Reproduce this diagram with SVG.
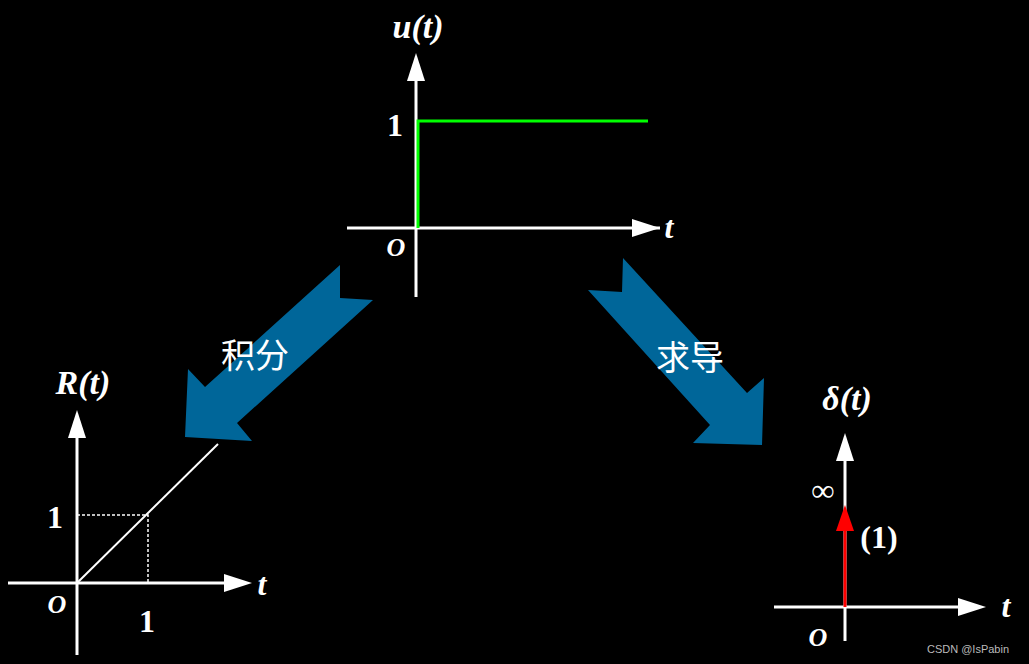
<svg xmlns="http://www.w3.org/2000/svg" width="1029" height="664" viewBox="0 0 1029 664">
<style>
.ax{stroke:#fff;stroke-width:3;fill:none}
.m{font-family:"Liberation Serif",serif;font-weight:bold;font-style:italic;fill:#fff}
.n{font-family:"Liberation Serif",serif;font-weight:bold;fill:#fff}
.cn{font-family:"Noto Sans CJK SC",sans-serif;fill:#fff;font-size:34px}
.big{fill:#006699}
</style>
<defs>
<marker id="ah" markerWidth="10" markerHeight="8" refX="9" refY="4" orient="auto" markerUnits="userSpaceOnUse" viewBox="0 0 10 8">
<path d="M0,0 L10,4 L0,8 Z" fill="#fff"/></marker>
</defs>
<rect width="1029" height="664" fill="#000"/>
<g id="arrows">
<polygon class="big" points="340,265 340,298 373,300 237,423 252,441 185,437 188,369 205,387"/>
<polygon class="big" points="623,258 622,292 588,290 710,425 693,443 762,445 764,378 747,393"/>
</g>
<g id="u">
<line class="ax" x1="347" y1="228" x2="660" y2="228"/>
<polygon points="660,228 632,219 632,237" fill="#fff"/>
<line class="ax" x1="416" y1="297" x2="416" y2="80"/>
<polygon points="416,53 407,81 425,81" fill="#fff"/>
<polyline points="418,228 418,121 648,121" stroke="#00ff00" stroke-width="3" fill="none"/>
<text class="m" x="418" y="38" font-size="34" text-anchor="middle">u(t)</text>
<text class="n" x="395" y="136" font-size="32" text-anchor="middle">1</text>
<text class="m" x="669" y="238" font-size="32" text-anchor="middle">t</text>
<text class="m" x="396" y="256" font-size="26" text-anchor="middle">O</text>
<text class="cn" x="255" y="368" text-anchor="middle">积分</text>
<text class="cn" x="690" y="370" text-anchor="middle">求导</text>
</g>
<g id="R">
<line class="ax" x1="8" y1="583" x2="225" y2="583"/>
<polygon points="252,583 224,574 224,592" fill="#fff"/>
<line class="ax" x1="77" y1="655" x2="77" y2="437"/>
<polygon points="77,410 68,438 86,438" fill="#fff"/>
<line x1="77" y1="583" x2="218" y2="444" stroke="#fff" stroke-width="2"/>
<polyline points="77,515 148,515 148,583" stroke="#fff" stroke-width="1.5" stroke-dasharray="3,2" fill="none"/>
<text class="m" x="83" y="394" font-size="34" text-anchor="middle">R(t)</text>
<text class="n" x="55" y="528" font-size="32" text-anchor="middle">1</text>
<text class="n" x="147" y="632" font-size="32" text-anchor="middle">1</text>
<text class="m" x="57" y="613" font-size="26" text-anchor="middle">O</text>
<text class="m" x="262" y="595" font-size="32" text-anchor="middle">t</text>
</g>
<g id="delta">
<line class="ax" x1="774" y1="607" x2="960" y2="607"/>
<polygon points="986,607 958,598 958,616" fill="#fff"/>
<line class="ax" x1="845" y1="641" x2="845" y2="460"/>
<polygon points="845,433 836,461 854,461" fill="#fff"/>
<line x1="845" y1="607" x2="845" y2="528" stroke="#ff0000" stroke-width="3"/>
<polygon points="845,505 836,531 854,531" fill="#ff0000"/>
<text class="m" x="847" y="410" font-size="34" text-anchor="middle">δ(t)</text>
<text class="n" x="823" y="501" font-size="32" text-anchor="middle">∞</text>
<text class="n" x="879" y="548" font-size="32" text-anchor="middle">(1)</text>
<text class="m" x="1006" y="617" font-size="32" text-anchor="middle">t</text>
<text class="m" x="818" y="646" font-size="26" text-anchor="middle">O</text>
<text x="968" y="653" font-family="Liberation Sans,sans-serif" font-size="11" fill="#bbb" text-anchor="middle">CSDN @IsPabin</text>
</g>
</svg>
